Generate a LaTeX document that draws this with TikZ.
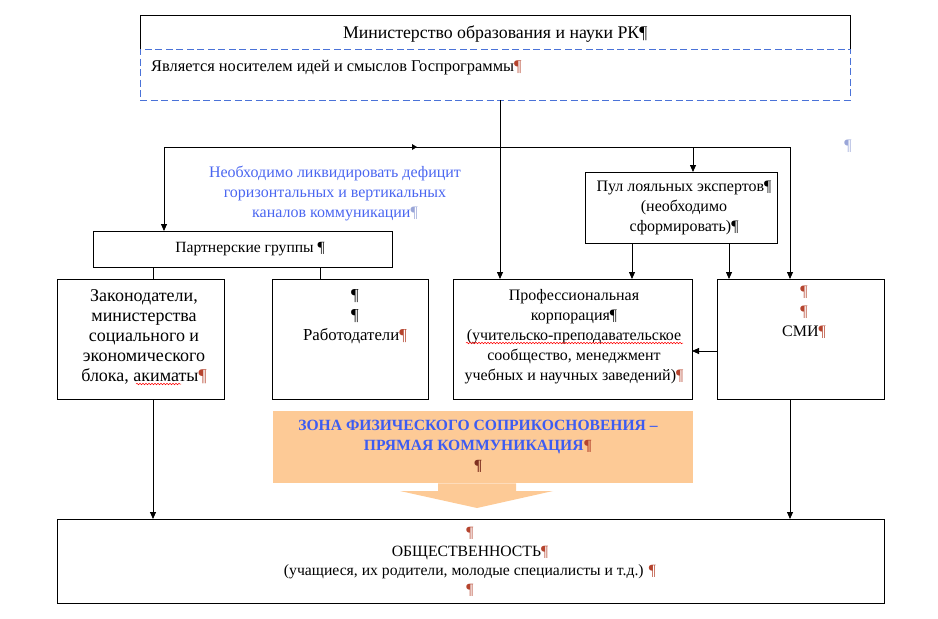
\documentclass[tikz,border=0pt]{standalone}
\usepackage{fontspec}
\setmainfont{Liberation Serif}
\usetikzlibrary{positioning,arrows.meta,decorations.pathmorphing}
\definecolor{zoneorange}{HTML}{FDCA96}
\definecolor{noteblue}{HTML}{4A66F0}
\definecolor{zoneblue}{HTML}{3D5CF2}
\definecolor{dashblue}{HTML}{4A72D8}
\definecolor{pilred}{HTML}{B5442E}
\definecolor{pilblue}{HTML}{9AA6D8}
\newcommand{\pd}{¶}
\newcommand{\pr}{\textcolor{pilred}{¶}}
\newcommand{\pb}{\textcolor{pilblue}{¶}}
\newcommand{\fs}[1]{\rmfamily\fontsize{#1}{20}\selectfont}
\tikzset{
box/.style={draw, line width=0.8pt, inner sep=0pt, outer sep=0pt, anchor=north west},
dashbox/.style={draw=dashblue, line width=0.8pt, dash pattern=on 7pt off 3.5pt, inner sep=0pt, outer sep=0pt, anchor=north west},
txt/.style={align=center, inner sep=0pt, font=\fs{16}},
arr/.style={-{Triangle[length=7pt,width=6pt]}, line width=0.8pt},
lin/.style={line width=0.8pt},
squig/.style={draw=red, line width=0.5pt, decorate, decoration={snake, segment length=3pt, amplitude=0.8pt}}
}
\begin{document}
\begin{tikzpicture}[x=1pt,y=-1pt]
\useasboundingbox (0,0) rectangle (938,619);

\node[anchor=north west, minimum width=710pt, minimum height=37pt, txt, font=\fs{17.8}] (min) at (140,15) {Министерство образования и науки РК\pd};
\draw[lin] (min.south west) -- (min.north west) -- (min.north east) -- (min.south east);
\node[dashbox, minimum width=710pt, minimum height=51pt] (idea) at (140,49) {};
\node[txt, anchor=west, font=\fs{16.4}] (ideatext) at (151,68) {Является носителем идей и смыслов Госпрограммы\pr};

\node[txt, text=noteblue] (note) at (335,193) {Необходимо ликвидировать дефицит\\горизонтальных и вертикальных\\каналов коммуникации\pb};
\node[txt, text=pilblue] (stray) at (848,146) {¶};

\node[box, minimum width=192pt, minimum height=71pt] (pool) at (585,172) {};
\node[txt] (pooltext) at (684,208) {Пул лояльных экспертов\pd\\(необходимо\\сформировать)\pd};

\node[box, minimum width=299pt, minimum height=36pt] (part) at (93,231) {};
\node[txt, font=\fs{15.6}] (parttext) at (250,249) {Партнерские группы \pd};

\node[box, minimum width=167pt, minimum height=120pt] (zak) at (57,279) {};
\node[txt, font=\fs{18}] (zaktext) at (144,337) {Законодатели,\\министерства\\социального и\\экономического\\блока, акиматы\pr};
\node[box, minimum width=156pt, minimum height=120pt] (rab) at (272,279) {};
\node[txt, font=\fs{16.8}] (rabtext) at (355,317) {\pd\\\pd\\Работодатели\pr};
\node[box, minimum width=239pt, minimum height=120pt] (prof) at (453,279) {};
\node[txt] (proftext) at (574,337) {Профессиональная\\корпорация\pd\\(учительско-преподавательское\\сообщество, менеджмент\\учебных и научных заведений)\pr};
\node[box, minimum width=167pt, minimum height=120pt] (smi) at (717,279) {};
\node[txt] (smitext) at (804,312) {\pr\\\pr\\СМИ\pr};

\node[anchor=north west, fill=zoneorange, minimum width=420pt, minimum height=72pt, inner sep=0pt] (zone) at (273,411) {};
\node[txt, font=\bfseries\fs{15.6}, text=zoneblue] (zonetext) at (478,446) {ЗОНА ФИЗИЧЕСКОГО СОПРИКОСНОВЕНИЯ – \\ПРЯМАЯ КОММУНИКАЦИЯ\textcolor{pilred}{¶}\\\textcolor{pilred!70!black}{¶}};
\fill[zoneorange] (zone.south -| 438,0) rectangle (516,491) (400,491) -- (553,491) -- (477,508) -- cycle;

\node[box, minimum width=827pt, minimum height=84pt] (pub) at (57,519) {};
\node[txt, font=\rmfamily\fontsize{15.7}{19}\selectfont] (pubtext) at (470,562) {\pr\\ОБЩЕСТВЕННОСТЬ\pr\\(учащиеся, их родители, молодые специалисты и т.д.) \pr\\\pr};

\coordinate (hub) at (500,147);
\coordinate (lt) at (164,147);
\coordinate (rt) at (790,147);
\draw[lin] (lt) -- (rt);
\draw[lin] (idea.south -| hub) -- (hub);
\draw[arr] (hub) -- (prof.north -| hub);
\draw[arr] (lt) -- (part.north -| lt);
\draw[arr] (rt) -- (smi.north -| rt);
\draw[arr] (693,147) -- (pool.north -| 693,0);
\fill (412,144) -- (417,147) -- (412,150) -- cycle;
\draw[arr] (pool.south -| 632,0) -- (prof.north -| 632,0);
\draw[arr] (pool.south -| 729,0) -- (smi.north -| 729,0);
\draw[lin] (part.south -| 153,0) -- (zak.north -| 153,0);
\draw[lin] (part.south -| 320,0) -- (rab.north -| 320,0);
\draw[arr] (smi.west |- 0,351) -- (prof.east |- 0,351);
\draw[arr] (zak.south -| 153,0) -- (pub.north -| 153,0);
\draw[arr] (smi.south -| rt) -- (pub.north -| rt);

\draw[squig] (136,384) -- (181,384);
\draw[squig] (466,343) -- (683,343);
\end{tikzpicture}
\end{document}
